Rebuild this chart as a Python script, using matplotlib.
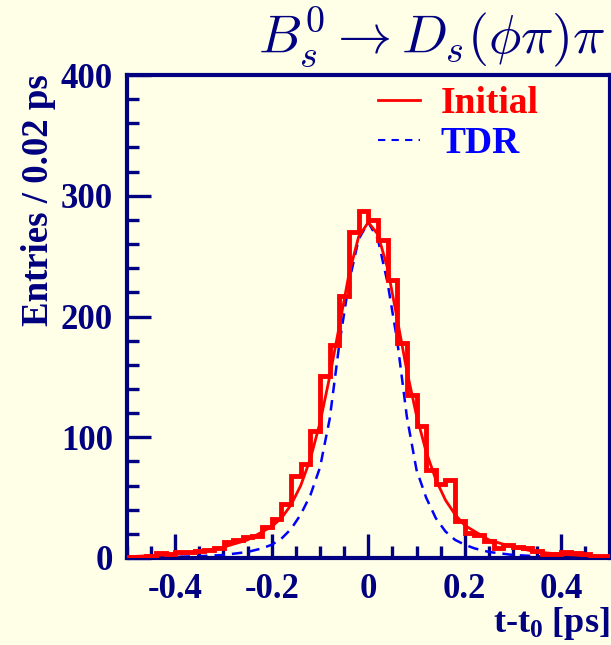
import numpy as np
import matplotlib
matplotlib.use("Agg")
import matplotlib.pyplot as plt
from matplotlib.ticker import MultipleLocator, FixedLocator

# ---- data -------------------------------------------------------------
# histogram of t - t0, 0.02 ps bins from -0.5 to 0.5 ps
bin_lo, bin_hi, bin_w = -0.5, 0.5, 0.02
hist_counts = [1, 1, 2, 4, 3, 5, 5, 6, 7, 8,
               13, 15, 17, 18, 26, 32, 45, 68, 78, 105,
               151, 176, 217, 270, 287, 280, 263, 230, 178, 135,
               109, 73, 61, 65, 31, 21, 19, 14, 8, 11,
               9, 8, 6, 3, 3, 5, 4, 3, 2, 2]

# fitted resolution curve ("Initial")
fit_t = [-0.50, -0.45, -0.40, -0.35, -0.30, -0.25, -0.20, -0.18, -0.16, -0.14,
         -0.12, -0.10, -0.08, -0.06, -0.04, -0.02, 0.00, 0.02, 0.04, 0.06,
         0.08, 0.10, 0.12, 0.14, 0.16, 0.18, 0.20, 0.25, 0.30, 0.35,
         0.40, 0.45, 0.50]
fit_y = [1, 2, 3, 5, 9, 15, 26, 33, 44, 60,
         82, 112, 150, 192, 235, 266, 278, 268, 240, 198,
         155, 118, 88, 65, 48, 36, 27, 15, 9, 5,
         3, 2, 1]

# TDR resolution curve
tdr_t = [-0.50, -0.45, -0.40, -0.35, -0.30, -0.25, -0.22, -0.20, -0.18, -0.16,
         -0.14, -0.12, -0.10, -0.08, -0.06, -0.04, -0.02, 0.00, 0.02, 0.04,
         0.06, 0.08, 0.10, 0.12, 0.14, 0.16, 0.18, 0.20, 0.22, 0.25,
         0.30, 0.35, 0.40, 0.45, 0.50]
tdr_y = [0.5, 0.7, 1, 1.5, 2.5, 5, 8, 11, 16, 24,
         36, 52, 75, 115, 177, 228, 264, 278, 264, 228,
         180, 117, 73, 50, 33, 22, 15, 11, 8, 5,
         2.5, 1.5, 1, 0.7, 0.5]

x_major = [-0.4, -0.2, 0.0, 0.2, 0.4]
x_labels = ["-0.4", "-0.2", "0", "0.2", "0.4"]
y_major = [0, 100, 200, 300, 400]
y_labels = ["0", "100", "200", "300", "400"]

# ---- style ------------------------------------------------------------
bg = "#fffee6"
navy = "#000080"
serif = "Liberation Serif"
plt.rcParams["mathtext.fontset"] = "custom"
plt.rcParams["mathtext.rm"] = "Liberation Serif:bold"
plt.rcParams["mathtext.it"] = "Liberation Serif:bold"
plt.rcParams["mathtext.bf"] = "Liberation Serif:bold"

W, H = 611, 645
fig = plt.figure(figsize=(W / 100, H / 100), dpi=100, facecolor=bg)
ax = fig.add_axes([127 / W, 1 - 558 / H, (609.5 - 127) / W, (558 - 75) / H])
ax.set_facecolor(bg)

edges = np.arange(len(hist_counts) + 1) * bin_w + bin_lo
ax.stairs(hist_counts, edges, color="#ff0000", lw=3.5, baseline=None, zorder=3)
fit_line, = ax.plot(fit_t, fit_y, color="#ff0000", lw=2.0, zorder=4)
tdr_line, = ax.plot(tdr_t, tdr_y, color="#0000ff", lw=1.8,
                    dashes=(4.2, 2.8), zorder=2)

ax.set_xlim(bin_lo, bin_hi)
ax.set_ylim(0, 400)

for s in ax.spines.values():
    s.set_color(navy)
    s.set_linewidth(3.0)

ax.xaxis.set_major_locator(FixedLocator(x_major))
ax.xaxis.set_minor_locator(MultipleLocator(0.05))
ax.yaxis.set_major_locator(FixedLocator(y_major))
ax.yaxis.set_minor_locator(MultipleLocator(20))
ax.set_xticklabels(x_labels)
ax.set_yticklabels(y_labels)
ax.tick_params(which="both", direction="in", color=navy, width=2.4,
               top=False, right=False)
ax.tick_params(which="major", length=17)
ax.tick_params(which="minor", length=8.5)
ax.tick_params(axis="x", which="major", pad=11)
ax.tick_params(axis="y", which="major", pad=10)
for lab in ax.get_xticklabels() + ax.get_yticklabels():
    lab.set_family(serif)
    lab.set_weight("bold")
    lab.set_size(25)
    lab.set_color(navy)

fig.text(39 / W, 1 - 200 / H, "Entries / 0.02 ps", rotation=90,
         ha="center", va="center", family=serif, weight="bold",
         size=26.5, color=navy)
fig.text(609 / W, 1 - 624 / H, r"t-t$_{0}$ [ps]", ha="right",
         va="center", family=serif, weight="bold", size=26, color=navy,
         math_fontfamily="custom")
fig.text(605 / W, 1 - 38 / H, r"$B_s^0 \rightarrow D_s(\phi\pi)\pi$",
         ha="right", va="center", size=39, color=navy,
         math_fontfamily="cm")

leg = ax.legend([fit_line, tdr_line], ["Initial", "TDR"],
                loc="upper left", bbox_to_anchor=(0.52, 0.978),
                frameon=False, handlelength=1.12, handletextpad=0.56,
                labelspacing=0.15, borderaxespad=0, borderpad=0,
                prop={"family": serif, "weight": "bold", "size": 27})
for txt, c in zip(leg.get_texts(), ["#ff0000", "#0000ff"]):
    txt.set_color(c)
leg.get_lines()[0].set_linewidth(2)
leg.get_lines()[1].set_linewidth(1.5)
leg.get_lines()[1].set_dashes((3.5, 3))

fig.savefig("out.png", dpi=100, facecolor=bg)
